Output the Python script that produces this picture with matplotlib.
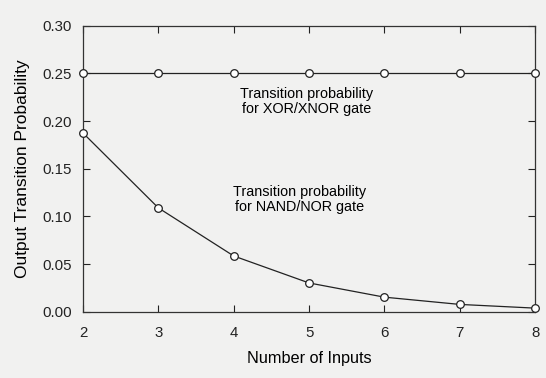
import numpy as np
import matplotlib
matplotlib.use('Agg')
import matplotlib.pyplot as plt

plt.rcParams['font.family'] = ['Liberation Sans', 'DejaVu Sans']

inputs = [2, 3, 4, 5, 6, 7, 8]
xor_prob = [0.25, 0.25, 0.25, 0.25, 0.25, 0.25, 0.25]
nand_prob = [0.1875, 0.109, 0.0586, 0.0303, 0.0154, 0.0078, 0.0039]

bg = '#f1f1f0'
fig = plt.figure(figsize=(5.46, 3.78), dpi=100, facecolor=bg)
ax = fig.add_axes([0.152, 0.175, 0.828, 0.757], facecolor=bg)

ax.plot(inputs, xor_prob, '-o', color='#222222', lw=0.9, ms=5.5,
        mfc='white', mec='#222222', mew=0.9, clip_on=False, zorder=3)
ax.plot(inputs, nand_prob, '-o', color='#222222', lw=0.9, ms=5.5,
        mfc='white', mec='#222222', mew=0.9, clip_on=False, zorder=3)

ax.set_xlim(2, 8)
ax.set_ylim(0, 0.30)
ax.set_xticks(inputs)
ax.set_yticks([0, 0.05, 0.10, 0.15, 0.20, 0.25, 0.30])
ax.set_yticklabels(['0.00', '0.05', '0.10', '0.15', '0.20', '0.25', '0.30'])
ax.tick_params(direction='in', top=True, right=True, length=5, width=0.8,
               labelsize=10.8, pad=8, colors='#222222')
ax.tick_params(axis='x', pad=10)
for s in ax.spines.values():
    s.set_linewidth(0.9)
    s.set_color('#333333')

ax.set_xlabel('Number of Inputs', fontsize=11.7, labelpad=8)
ax.set_ylabel('Output Transition Probability', fontsize=12.5, labelpad=9)

ax.text(4.97, 0.221, 'Transition probability\nfor XOR/XNOR gate',
        ha='center', va='center', fontsize=10.4, linespacing=1.1)
ax.text(4.88, 0.1175, 'Transition probability\nfor NAND/NOR gate',
        ha='center', va='center', fontsize=10.4, linespacing=1.1)

fig.savefig('out.png', dpi=100, facecolor=bg)
